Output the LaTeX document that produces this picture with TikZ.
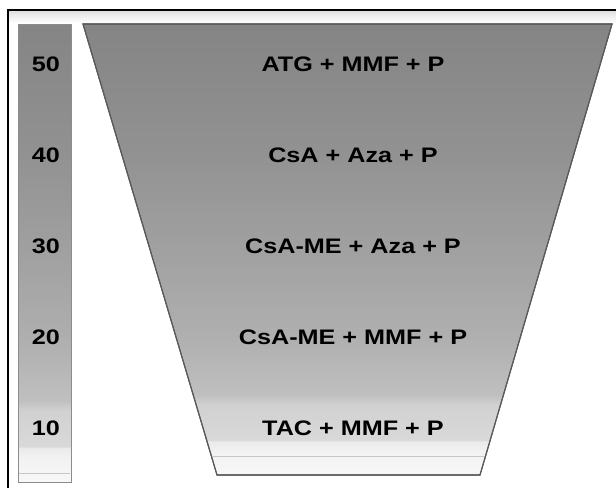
\documentclass[tikz,border=0pt]{standalone}
\usepackage{fontspec}
\newfontfamily\lblfont[FakeStretch=1.2]{Liberation Sans Bold}
% vertical grey ramp: dark at the top, almost white at the bottom
\pgfdeclareverticalshading{funnelshade}{100bp}{%
  color(0bp)=(black!3);
  color(25bp)=(black!3);
  color(27.6bp)=(black!5);
  color(28.7bp)=(black!8);
  color(28.9bp)=(black!15);
  color(32.8bp)=(black!18);
  color(33.9bp)=(black!25);
  color(40bp)=(black!31);
  color(49.9bp)=(black!37);
  color(61bp)=(black!43);
  color(75bp)=(black!48);
  color(100bp)=(black!48)}
\tikzset{
  frameline/.style={line width=1.4pt, black},
  funnel/.style={shading=funnelshade, draw=black!65, line width=1.1pt},
  scalebar/.style={shading=funnelshade, draw=black!45, line width=1pt},
  lbl/.style={font=\lblfont\fontsize{21}{25}\selectfont, text=black, inner sep=1pt},
  faintline/.style={draw=black!22, line width=0.8pt},
}
\begin{document}
\begin{tikzpicture}[x=1pt, y=-1pt]
  \useasboundingbox (0,0) rectangle (616,488);
  \fill[white] (0,0) rectangle (616,488);
  % faint band under the top rule
  \shade[top color=black!12, bottom color=white] (9,11) rectangle (616,23);
  % frame: only its top and left rules fall inside the page
  \draw[frameline] (8,488) -- (8,10) -- (616,10);

  % scale bar on the left
  \path[scalebar] (18,24) rectangle (71,482);
  \draw[faintline] (19,473) -- (70,473);
  \node[lbl] (n50) at (46,64) {50};
  \node[lbl] (n40) at (46,155) {40};
  \node[lbl] (n30) at (46,246) {30};
  \node[lbl] (n20) at (46,337) {20};
  \node[lbl] (n10) at (46,428) {10};

  % funnel of regimens
  \path[funnel] (83,24) -- (612,24) -- (480,475) -- (217,475) -- cycle;
  \draw[faintline] (213,456) -- (485,456);
  \node[lbl] (r1) at (353,64) {ATG + MMF + P};
  \node[lbl] (r2) at (353,155) {CsA + Aza + P};
  \node[lbl] (r3) at (353,246) {CsA-ME + Aza + P};
  \node[lbl] (r4) at (353,337) {CsA-ME + MMF + P};
  \node[lbl] (r5) at (353,428) {TAC + MMF + P};
  % redraw the funnel rim over the inner line
  \draw[draw=black!65, line width=1.1pt] (83,24) -- (612,24) -- (480,475) -- (217,475) -- cycle;
\end{tikzpicture}
\end{document}
